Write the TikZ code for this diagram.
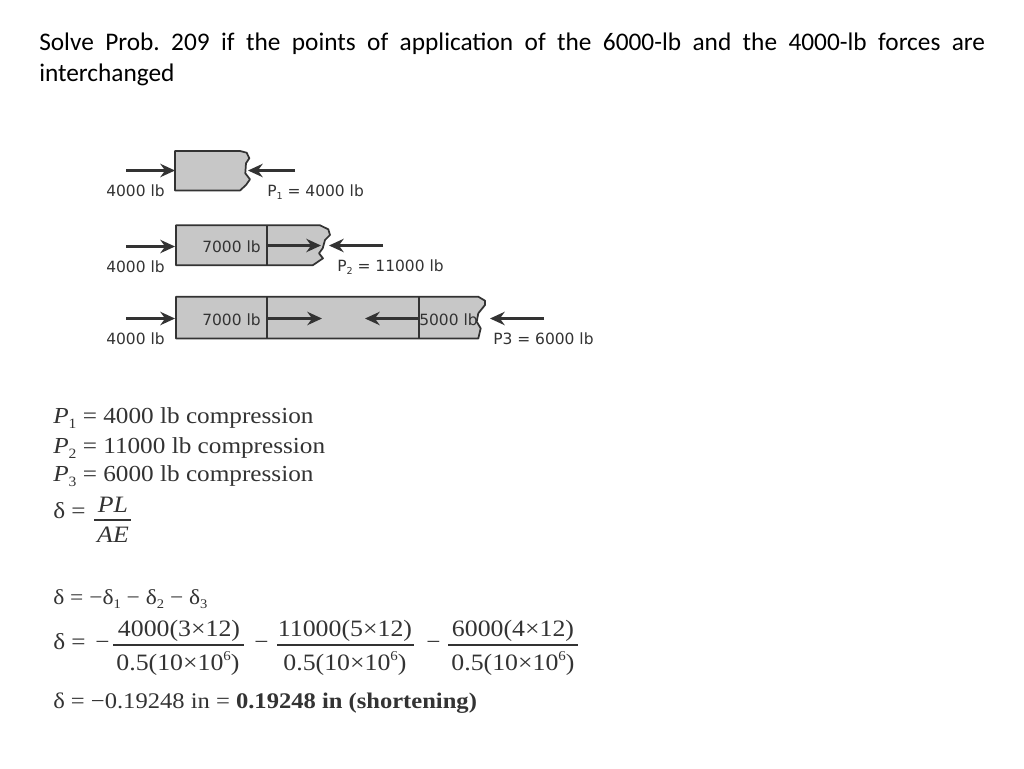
\documentclass[tikz,border=0pt]{standalone}
\usepackage{fontspec}
\setmainfont[FakeStretch=1.1]{Liberation Serif}
\newfontfamily\titlefont{Carlito}
\newfontfamily\labelfont{DejaVu Sans}
\usetikzlibrary{arrows.meta}
\newcommand{\lowsub}[1]{\raisebox{-0.22em}{\scalebox{0.62}{#1}}}
\newcommand{\highsup}[1]{\raisebox{0.42em}{\scalebox{0.58}{#1}}}
\definecolor{inkc}{gray}{0.2}
\definecolor{barc}{gray}{0.78}
\tikzset{
  x=0.75pt,y=-0.75pt,
  titletext/.style={anchor=north west,inner sep=0pt,text width=709.5pt,align=justify,text=black,font=\titlefont\fontsize{19}{23.25}\selectfont\frenchspacing},
  difflabel/.style={anchor=base west,inner sep=0pt,text=inkc,font=\labelfont\fontsize{11.6}{13}\selectfont},
  mathline/.style={anchor=base west,inner sep=0pt,text=inkc,font=\fontsize{17.2}{20}\selectfont},
  fracpart/.style={anchor=base,inner sep=0pt,text=inkc,font=\fontsize{17.6}{20}\selectfont},
  barshape/.style={draw=inkc,fill=barc,line width=1.3pt,line join=round},
  divider/.style={draw=inkc,line width=1.3pt},
  forcearrow/.style={draw=inkc,line width=2.3pt,-{Stealth[length=11pt,width=10pt]}},
  fracrule/.style={draw=inkc,line width=1pt}
}
\begin{document}
\begin{tikzpicture}
\useasboundingbox (0,0) rectangle (1024,768);
\fill[white] (0,0) rectangle (1024,768);
% title
\node[titletext] (title) at (39,33) {Solve Prob. 209 if the points of application of the 6000-lb and the 4000-lb forces are \mbox{interchanged}};
% bars
\path[barshape] (175,151) -- (240,151) -- (246.7,152.7) -- (249.3,158.3) -- (246,163.3) -- (245.3,173.3) -- (250,179.3) -- (246,185) -- (240,190.5) -- (175,190.5) -- cycle;
\path[barshape] (176,225.3) -- (320,225.3) -- (328.3,229.3) -- (330,235) -- (325,240) -- (322.7,248.3) -- (319,253.3) -- (323,258.3) -- (312.7,265.3) -- (176,265.3) -- cycle;
\path[barshape] (176,296.7) -- (478.3,296.7) -- (485,300.7) -- (485,305) -- (478.3,313.3) -- (476.7,321.7) -- (480.7,328.3) -- (478.3,338.5) -- (176,338.5) -- cycle;
\draw[divider] (267.3,225.3) -- (267.3,265.3);
\draw[divider] (267.3,296.7) -- (267.3,338.5);
\draw[divider] (419.3,296.7) -- (419.3,338.5);
% arrow ends
\coordinate (a1s) at (126,170.5); \coordinate (a1e) at (175,170.5);
\coordinate (b1s) at (295,170.5); \coordinate (b1e) at (248,170.5);
\coordinate (a2s) at (126,246.5); \coordinate (a2e) at (175,246.5);
\coordinate (c2s) at (268,245.5); \coordinate (c2e) at (321,245.5);
\coordinate (b2s) at (383,245.5); \coordinate (b2e) at (329,245.5);
\coordinate (a3s) at (126,318.5); \coordinate (a3e) at (175,318.5);
\coordinate (c3s) at (268,318.5); \coordinate (c3e) at (322,318.5);
\coordinate (d3s) at (419,318.5); \coordinate (d3e) at (365,318.5);
\coordinate (b3s) at (544,318.5); \coordinate (b3e) at (490,318.5);
\foreach \p/\q in {a1s/a1e,b1s/b1e,a2s/a2e,c2s/c2e,b2s/b2e,a3s/a3e,c3s/c3e,d3s/d3e,b3s/b3e}
  \draw[forcearrow] (\p) -- (\q);
% diagram labels
\node[difflabel] (l1) at (106,196.5) {4000 lb};
\node[difflabel] (p1) at (267,196) {P\lowsub{1} = 4000 lb};
\node[difflabel] (l2) at (106,272) {4000 lb};
\node[difflabel] (s2) at (202,252) {7000 lb};
\node[difflabel] (p2) at (337,271) {P\lowsub{2} = 11000 lb};
\node[difflabel] (l3) at (106,344) {4000 lb};
\node[difflabel] (s3) at (202,325) {7000 lb};
\node[difflabel] (t3) at (419,325) {5000 lb};
\node[difflabel] (p3) at (493,344) {P3 = 6000 lb};
% equations
\node[mathline] (e1) at (53,423) {\textit{P}\lowsub{1} = 4000 lb compression};
\node[mathline] (e2) at (53,453) {\textit{P}\lowsub{2} = 11000 lb compression};
\node[mathline] (e3) at (53,481) {\textit{P}\lowsub{3} = 6000 lb compression};
\node[mathline] (e4) at (53,518) {δ =};
\node[fracpart] (e4n) at (113,512) {\textit{PL}};
\node[fracpart] (e4d) at (113,542) {\textit{AE}};
\draw[fracrule] (94,520) -- (131,520);
\node[mathline,font=\fontsize{16}{20}\selectfont] (e5) at (53,604) {δ = −δ\lowsub{1} − δ\lowsub{2} − δ\lowsub{3}};
\node[mathline] (e6) at (53,649) {δ =};
\node[mathline] (m1) at (95,649) {−};
\node[fracpart] (n1) at (179,636) {4000(3×12)};
\node[fracpart] (d1) at (178,670) {0.5(10×10\highsup{6})};
\draw[fracrule] (113,645) -- (244,645);
\node[mathline] (m2) at (254,649) {−};
\node[fracpart] (n2) at (345,636) {11000(5×12)};
\node[fracpart] (d2) at (345,670) {0.5(10×10\highsup{6})};
\draw[fracrule] (277,645) -- (414,645);
\node[mathline] (m3) at (426,649) {−};
\node[fracpart] (n3) at (513,636) {6000(4×12)};
\node[fracpart] (d3) at (513,670) {0.5(10×10\highsup{6})};
\draw[fracrule] (448,645) -- (578,645);
\node[mathline,font=\fontsize{16.75}{20}\selectfont] (e7) at (53,708) {δ = −0.19248 in = \textbf{0.19248 in (shortening)}};
\end{tikzpicture}
\end{document}
